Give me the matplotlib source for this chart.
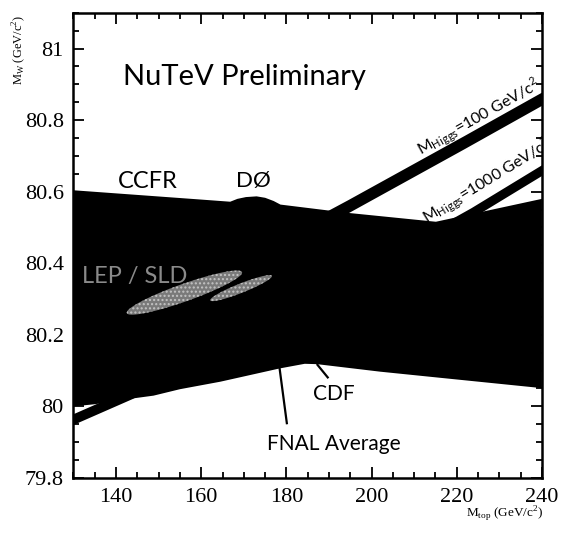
import math

import matplotlib.pyplot as plt
from matplotlib.ticker import MultipleLocator


# outer edge of the big black area (CCFR band, D0 bump, FNAL average)
top_mt = [130, 160, 166.8, 168.5, 170.5, 173, 175, 177, 178.6, 194.3, 215.1, 240]
top_mw = [80.604, 80.578, 80.572, 80.580, 80.585, 80.587, 80.583, 80.574, 80.564,
          80.541, 80.516, 80.58]
bot_mt = [130, 135, 143.8, 148.8, 155, 164.5, 178.4, 184.3, 187.2, 202, 216, 240]
bot_mw = [80.0, 80.006, 80.022, 80.03, 80.048, 80.069, 80.106, 80.119, 80.118,
          80.097, 80.08, 80.051]

# Standard Model bands for fixed Higgs mass
h100_mt = [130, 150, 170, 194.3, 221.7, 240]
h100_lo = [80.14, 80.26, 80.385, 80.54, 80.72, 80.842]
h100_hi = [80.177, 80.297, 80.422, 80.577, 80.757, 80.879]
h1000_mt = [130, 143.8, 170, 200, 223.3, 240]
h1000_lo = [79.95, 80.022, 80.18, 80.37, 80.525, 80.646]
h1000_hi = [79.98, 80.052, 80.21, 80.40, 80.555, 80.676]

# LEP/SLD contours: two tips and half height
lep_contours = [
    ((142.5, 80.262), (169.6, 80.374), 0.026),
    ((162.1, 80.297), (176.6, 80.364), 0.014),
]

sans = 'Lato'
serif = 'Liberation Serif'

fig = plt.figure(figsize=(5.61, 5.34), dpi=100)
ax = fig.add_axes([0.131, 0.105, 0.835, 0.871])
ax.set_xlim(130, 240)
ax.set_ylim(79.8, 81.1)

ax.fill(top_mt + bot_mt[::-1], top_mw + bot_mw[::-1], color='black', lw=0)
ax.fill_between(h100_mt, h100_lo, h100_hi, color='black', lw=0)
ax.fill_between(h1000_mt, h1000_lo, h1000_hi, color='black', lw=0)

plt.rcParams['hatch.linewidth'] = 1.0
for (x1, y1), (x2, y2), h in lep_contours:
    cx, cy = (x1 + x2) / 2, (y1 + y2) / 2
    ax_, ay_ = (x2 - x1) / 2, (y2 - y1) / 2
    pts_x, pts_y = [], []
    for i in range(121):
        t = 2 * math.pi * i / 120
        pts_x.append(cx + ax_ * math.cos(t))
        pts_y.append(cy + ay_ * math.cos(t) + h * math.sin(t))
    ax.fill(pts_x, pts_y, facecolor='#7a7a7a', edgecolor='#c4c4c4', hatch='....', lw=0)

ax.text(131.9, 80.345, 'LEP / SLD', color='#8a8a8a', fontsize=17, family=sans)

# pointer lines
ax.plot([178.4, 180.1], [80.106, 79.953], color='black', lw=1.6)
ax.plot([187.3, 189.7], [80.116, 80.081], color='black', lw=1.6)

ax.text(141.6, 80.898, 'NuTeV Preliminary', fontsize=21, family=sans)
ax.text(140.4, 80.609, 'CCFR', fontsize=17, family=sans)
ax.text(168.1, 80.612, 'DØ', fontsize=16, family=sans)
ax.text(186.2, 80.018, 'CDF', fontsize=15, family=sans)
ax.text(175.4, 79.878, 'FNAL Average', fontsize=15, family=sans)

# Higgs labels along the bands
fig.canvas.draw()
for mt, hi, x0, dy, lab in [
    (h100_mt, h100_hi, 211.5, 0.014, r'$\mathregular{M_{Higgs}}$=100 GeV/c$^\mathregular{2}$'),
    (h1000_mt, h1000_hi, 213.0, 0.03, r'$\mathregular{M_{Higgs}}$=1000 GeV/c$^\mathregular{2}$'),
]:
    p1 = ax.transData.transform((mt[-2], hi[-2]))
    p2 = ax.transData.transform((mt[-1], hi[-1]))
    ang = math.degrees(math.atan2(p2[1] - p1[1], p2[0] - p1[0]))
    slope = (hi[-1] - hi[-2]) / (mt[-1] - mt[-2])
    y0 = hi[-2] + slope * (x0 - mt[-2]) + dy
    ax.text(x0, y0, lab, fontsize=11.5, family=sans, rotation=ang,
            rotation_mode='anchor', ha='left', va='baseline', clip_on=True)

ax.xaxis.set_major_locator(MultipleLocator(20))
ax.xaxis.set_minor_locator(MultipleLocator(5))
ax.yaxis.set_major_locator(MultipleLocator(0.2))
ax.yaxis.set_minor_locator(MultipleLocator(0.05))
ax.tick_params(which='both', direction='in', top=True, right=True, width=1.3)
ax.tick_params(which='major', length=8, labelsize=16, pad=7)
ax.tick_params(which='minor', length=4)
for lab in ax.get_xticklabels() + ax.get_yticklabels():
    lab.set_family(serif)
ax.yaxis.set_major_formatter(plt.FuncFormatter(lambda v, p: f'{v:g}'))
for s in ax.spines.values():
    s.set_linewidth(1.8)

fig.text(0.034, 0.972, r'$\mathregular{M_W}$ (GeV/c$^\mathregular{2}$)', rotation=90,
         va='top', ha='center', fontsize=9, family=serif)
fig.text(0.968, 0.02, r'$\mathregular{M_{top}}$ (GeV/c$^\mathregular{2}$)',
         ha='right', va='bottom', fontsize=9.5, family=serif)

fig.savefig('out.png', dpi=100)
